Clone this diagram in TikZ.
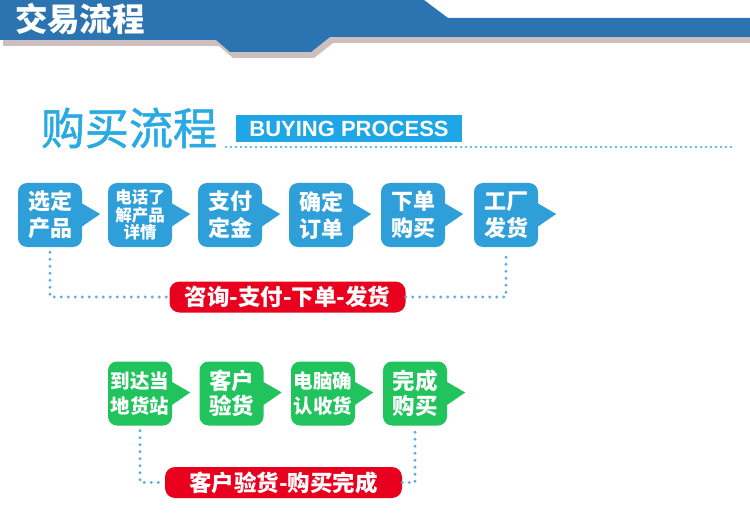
\documentclass[tikz,border=0pt]{standalone}
\usepackage{fontspec}
\setmainfont{Liberation Sans}
\newfontfamily\cjk{Noto Sans CJK SC}
\newfontfamily\cjkmed{Noto Sans CJK SC}[FakeBold=1.2]
\usetikzlibrary{calc}
\definecolor{hdrblue}{HTML}{2B74B1}
\definecolor{hdrshadow}{HTML}{CDBFBD}
\definecolor{skyblue}{HTML}{29AAE3}
\definecolor{bannerblue}{HTML}{1EA6E6}
\definecolor{stepblue}{HTML}{2E9FD9}
\definecolor{stepgreen}{HTML}{20C35C}
\definecolor{tagred}{HTML}{E8001E}
\definecolor{dotblue}{HTML}{5AAEE6}
\begin{document}
\begin{tikzpicture}[x=1pt,y=-1pt,
  stepbox/.style={rounded corners=9pt, minimum width=64pt, minimum height=64pt,
    inner sep=0pt, text=white, align=center},
  bluestep/.style={stepbox, fill=stepblue},
  greenstep/.style={stepbox, fill=stepgreen},
  bigtxt/.style={font=\cjk\bfseries\fontsize{22}{27}\selectfont},
  midtxt/.style={font=\cjk\bfseries\fontsize{19.5}{25}\selectfont},
  smalltxt/.style={font=\cjk\bfseries\fontsize{16.5}{17.5}\selectfont},
  redtag/.style={fill=tagred, rounded corners=10pt, minimum height=31pt,
    inner sep=0pt, text=white, font=\cjk\bfseries\fontsize{22.5}{26}\selectfont},
  dotline/.style={draw=dotblue, line width=3.2pt, dash pattern=on 0pt off 7pt, line cap=round}
]
\useasboundingbox (0,0) rectangle (750,532);
\fill[white] (0,0) rectangle (750,532);

% header band
\fill[hdrshadow, shift={(3,6)}] (0,0) -- (424,0) -- (448,18) -- (747,18) -- (747,37) -- (330,37) -- (311,52) -- (230,52) -- (216,40) -- (0,40) -- cycle;
\fill[hdrblue] (0,0) -- (424,0) -- (448,18) -- (750,18) -- (750,37) -- (330,37) -- (311,52) -- (230,52) -- (216,40) -- (0,40) -- cycle;
\node[text=white, font=\cjk\bfseries\fontsize{32.5}{35}\selectfont] (title) at (80,19) {交易流程};

% section title
\node[text=skyblue, font=\cjkmed\fontsize{44}{48}\selectfont] (buy) at (129,128) {购买流程};
\node[fill=bannerblue, minimum width=226pt, minimum height=27pt, inner sep=0pt,
  text=white, font=\bfseries\fontsize{22}{24}\selectfont] (banner) at (349,128.5) {BUYING PROCESS};
\coordinate (d0) at (226,147);
\coordinate (d1) at (731,147);
\draw[skyblue, line width=2.2pt, dash pattern=on 0pt off 5pt, line cap=round] (d0) -- (d1);

% row 1
\node[bluestep, bigtxt] (b1) at (50,215) {选定\\产品};
\node[bluestep, smalltxt] (b2) at (140,215) {电话了\\解产品\\详情};
\node[bluestep, bigtxt] (b3) at (230,215) {支付\\定金};
\node[bluestep, bigtxt] (b4) at (321,215) {确定\\订单};
\node[bluestep, bigtxt] (b5) at (413,215) {下单\\购买};
\node[bluestep, bigtxt] (b6) at (506,215) {工厂\\发货};
\foreach \n in {b1,b2,b3,b4,b5,b6}
  \fill[stepblue] ($(\n.east)+(-1,-12)$) -- ($(\n.east)+(18,-1)$) -- ($(\n.east)+(-1,12)$) -- cycle;

\node[redtag, minimum width=236pt] (r1) at (287.5,297) {咨询-支付-下单-发货};
\draw[dotline, shorten <=5pt] (b1) |- (r1);
\draw[dotline, shorten >=5pt] (r1) -| (b6);

% row 2
\node[greenstep, midtxt] (g1) at (140,393.5) {到达当\\地货站};
\node[greenstep, font=\cjk\bfseries\fontsize{22.5}{25}\selectfont] (g2) at (231.5,393.5) {客户\\验货};
\node[greenstep, midtxt] (g3) at (323,393.5) {电脑确\\认收货};
\node[greenstep, font=\cjk\bfseries\fontsize{22.5}{25}\selectfont] (g4) at (415,393.5) {完成\\购买};
\foreach \n in {g1,g2,g3,g4}
  \fill[stepgreen] ($(\n.east)+(-1,-12)$) -- ($(\n.east)+(18,-1)$) -- ($(\n.east)+(-1,12)$) -- cycle;

\node[redtag, minimum width=237pt] (r2) at (283.5,482.5) {客户验货-购买完成};
\draw[dotline, shorten <=5pt] (g1) |- (r2);
\draw[dotline, shorten >=5pt] (r2) -| (g4);
\end{tikzpicture}
\end{document}
